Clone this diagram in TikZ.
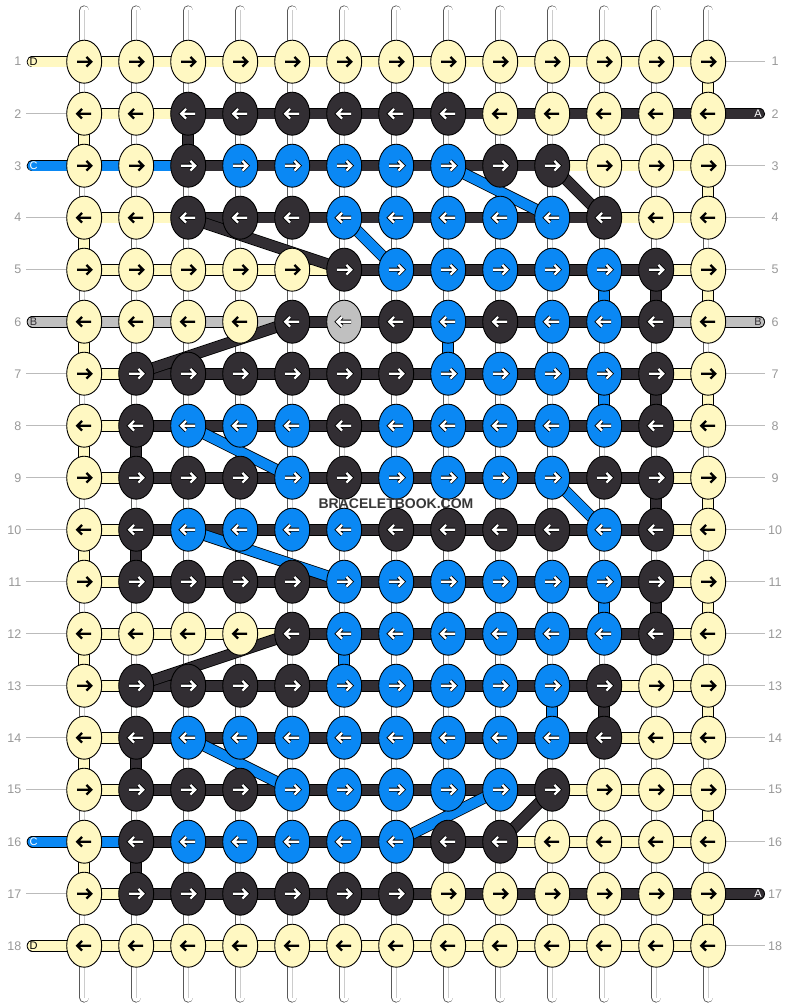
\documentclass[tikz,border=0pt]{standalone}
\usepackage{fontspec}
\setmainfont{Liberation Sans}
\usetikzlibrary{shapes.geometric}
\definecolor{cY}{HTML}{FFF8C2}
\definecolor{cD}{HTML}{322E33}
\definecolor{cB}{HTML}{0A88F4}
\definecolor{cG}{HTML}{C0C0C0}
\definecolor{numgray}{HTML}{999999}
\definecolor{tickgray}{HTML}{BBBBBB}
\colorlet{aoY}{cY}\colorlet{aiY}{black}
\colorlet{aoD}{black}\colorlet{aiD}{white}
\colorlet{aoB}{black}\colorlet{aiB}{white}
\colorlet{aoG}{black}\colorlet{aiG}{white}
\pgfdeclarelayer{warp}
\pgfdeclarelayer{thread}
\pgfsetlayers{warp,thread,main}
\tikzset{
  knot/.style={ellipse, draw=black, line width=0.9, minimum width=35, minimum height=43, inner sep=0},
  seg/.style={draw=black, line width=0.8, double=#1, double distance=10},
  warp/.style={draw=black!65, line width=0.8, double=white, double distance=8.6, line cap=round},
  num/.style={text=numgray, font=\fontsize{12.5}{12.5}\selectfont, inner sep=0},
  tag/.style={font=\fontsize{11}{11}\selectfont, inner sep=0},
  tick/.style={draw=tickgray, line width=0.8},
  pics/arr/.style 2 args={code={
    \draw[draw=ao#1, line width=4] ({-7*(#2)},0) -- ({7*(#2)},0) ({2.2*(#2)},-4.8) -- ({7*(#2)},0) -- ({2.2*(#2)},4.8);
    \draw[draw=ai#1, line width=2.3] ({-7*(#2)},0) -- ({7*(#2)},0) ({2.2*(#2)},-4.8) -- ({7*(#2)},0) -- ({2.2*(#2)},4.8);
  }}
}
\begin{document}
\begin{tikzpicture}[x=1pt,y=-1pt]
\begin{pgfonlayer}{warp}
\fill[white] (0,0) rectangle (792,1008);
\foreach \c in {1,...,13} {
  \coordinate (top-\c) at ({32.2+52*\c},10.5);
  \coordinate (bot-\c) at ({32.2+52*\c},997.5);
  \draw[warp] (top-\c) -- (bot-\c);
  \draw[draw=black!20, line width=1.2] (top-\c) -- (bot-\c);
}
\end{pgfonlayer}

% knots, one row per line
\foreach \r/\cols [evaluate=\r as \d using {1-2*mod(\r+1,2)}] in {
  1/{Y,Y,Y,Y,Y,Y,Y,Y,Y,Y,Y,Y,Y},
  2/{Y,Y,D,D,D,D,D,D,Y,Y,Y,Y,Y},
  3/{Y,Y,D,B,B,B,B,B,D,D,Y,Y,Y},
  4/{Y,Y,D,D,D,B,B,B,B,B,D,Y,Y},
  5/{Y,Y,Y,Y,Y,D,B,B,B,B,B,D,Y},
  6/{Y,Y,Y,Y,D,G,D,B,D,B,B,D,Y},
  7/{Y,D,D,D,D,D,D,B,B,B,B,D,Y},
  8/{Y,D,B,B,B,D,B,B,B,B,B,D,Y},
  9/{Y,D,D,D,B,D,B,B,B,B,D,D,Y},
  10/{Y,D,B,B,B,B,D,D,D,D,B,D,Y},
  11/{Y,D,D,D,D,B,B,B,B,B,B,D,Y},
  12/{Y,Y,Y,Y,D,B,B,B,B,B,B,D,Y},
  13/{Y,D,D,D,D,B,B,B,B,B,D,Y,Y},
  14/{Y,D,B,B,B,B,B,B,B,B,D,Y,Y},
  15/{Y,D,D,D,B,B,B,B,B,D,Y,Y,Y},
  16/{Y,D,B,B,B,B,B,D,D,Y,Y,Y,Y},
  17/{Y,D,D,D,D,D,D,Y,Y,Y,Y,Y,Y},
  18/{Y,Y,Y,Y,Y,Y,Y,Y,Y,Y,Y,Y,Y}}{
  \foreach \k [count=\c] in \cols {
    \node[knot, fill=c\k] (k-\r-\c) at ({32.2+52*\c},{9.7+52*\r}) {};
    \pic at (k-\r-\c) {arr={\k}{\d}};
  }
}

\begin{pgfonlayer}{thread}
% threads between knots of a row
\foreach \r/\segs in {
  1/{Y,Y,Y,Y,Y,Y,Y,Y,Y,Y,Y,Y},
  2/{Y,Y,D,D,D,D,D,D,D,D,D,D},
  3/{B,B,D,D,D,D,D,D,D,Y,Y,Y},
  4/{Y,Y,D,D,D,D,D,D,D,D,Y,Y},
  5/{Y,Y,Y,Y,Y,D,D,D,D,D,D,Y},
  6/{G,G,G,G,D,D,D,D,D,D,D,G},
  7/{Y,D,D,D,D,D,D,D,D,D,D,Y},
  8/{Y,D,D,D,D,D,D,D,D,D,D,Y},
  9/{Y,D,D,D,D,D,D,D,D,D,D,Y},
  10/{Y,D,D,D,D,D,D,D,D,D,D,Y},
  11/{Y,D,D,D,D,D,D,D,D,D,D,Y},
  12/{Y,Y,Y,Y,D,D,D,D,D,D,D,Y},
  13/{Y,D,D,D,D,D,D,D,D,D,Y,Y},
  14/{Y,D,D,D,D,D,D,D,D,D,Y,Y},
  15/{Y,D,D,D,D,D,D,D,D,Y,Y,Y},
  16/{B,D,D,D,D,D,D,D,Y,Y,Y,Y},
  17/{Y,D,D,D,D,D,D,D,D,D,D,D},
  18/{Y,Y,Y,Y,Y,Y,Y,Y,Y,Y,Y,Y}}{
  \foreach \s [count=\c] in \segs {
    \pgfmathtruncatemacro\n{\c+1}
    \draw[seg=c\s] (k-\r-\c.center) -- (k-\r-\n.center);
  }
}
% threads going down
\foreach \r/\c/\s in {1/13/Y, 2/1/Y, 2/3/D, 3/13/Y, 4/1/Y, 5/11/B, 5/12/D, 5/13/Y,
  6/1/Y, 6/8/B, 7/11/B, 7/12/D, 7/13/Y, 8/1/Y, 8/2/D, 9/12/D, 9/13/Y, 10/1/Y, 10/2/D,
  11/11/B, 11/12/D, 11/13/Y, 12/1/Y, 12/6/B, 13/10/B, 13/11/D, 13/13/Y, 14/1/Y, 14/2/D,
  15/13/Y, 16/1/Y, 16/2/D, 17/13/Y} {
  \pgfmathtruncatemacro\n{\r+1}
  \draw[seg=c\s] (k-\r-\c.center) -- (k-\n-\c.center);
}
% threads crossing over
\foreach \r/\c/\t/\s in {3/8/10/B, 3/10/11/D, 4/3/6/D, 4/6/7/B, 6/5/2/D, 8/3/5/B,
  9/10/11/B, 10/3/6/B, 12/5/2/D, 14/3/5/B, 15/9/7/B, 15/10/9/D} {
  \pgfmathtruncatemacro\n{\r+1}
  \draw[seg=c\s] (k-\r-\c.center) -- (k-\n-\t.center);
}
% loose ends
\foreach \r/\s in {1/Y, 3/B, 6/G, 16/B, 18/Y} {
  \coordinate (le-\r) at (32.5,{9.7+52*\r});
  \draw[seg=c\s, line cap=round] (le-\r) -- (k-\r-1.center);
}
\foreach \r/\s in {2/D, 6/G, 17/D} {
  \coordinate (re-\r) at (759.2,{9.7+52*\r});
  \draw[seg=c\s, line cap=round] (k-\r-13.center) -- (re-\r);
}
\foreach \r in {2,4,5,7,8,9,10,11,12,13,14,15,17} {
  \coordinate (le-\r) at (26,{9.7+52*\r});
  \draw[tick] (le-\r) -- (k-\r-1);
}
\foreach \r in {1,3,4,5,7,8,9,10,11,12,13,14,15,16,18} {
  \coordinate (re-\r) at (765,{9.7+52*\r});
  \draw[tick] (k-\r-13) -- (re-\r);
}
\end{pgfonlayer}

\foreach \r/\t/\txt in {1/black/D, 3/white/C, 6/cD/B, 16/white/C, 18/black/D}
  \node[tag, text=\t] (lt-\r) at (33.5,{9.7+52*\r}) {\txt};
\foreach \r/\t/\txt in {2/white/A, 6/cD/B, 17/white/A}
  \node[tag, text=\t] (rt-\r) at (758,{9.7+52*\r}) {\txt};

\foreach \r in {1,...,18} {
  \node[num, anchor=east] (ln-\r) at (21.5,{9.7+52*\r}) {\r};
  \node[num] (rn-\r) at (775,{9.7+52*\r}) {\r};
}

\node[font=\bfseries\fontsize{14}{14}\selectfont, text=black!78, inner sep=0] (wm) at (396,503.5) {BRACELETBOOK.COM};
\end{tikzpicture}
\end{document}
